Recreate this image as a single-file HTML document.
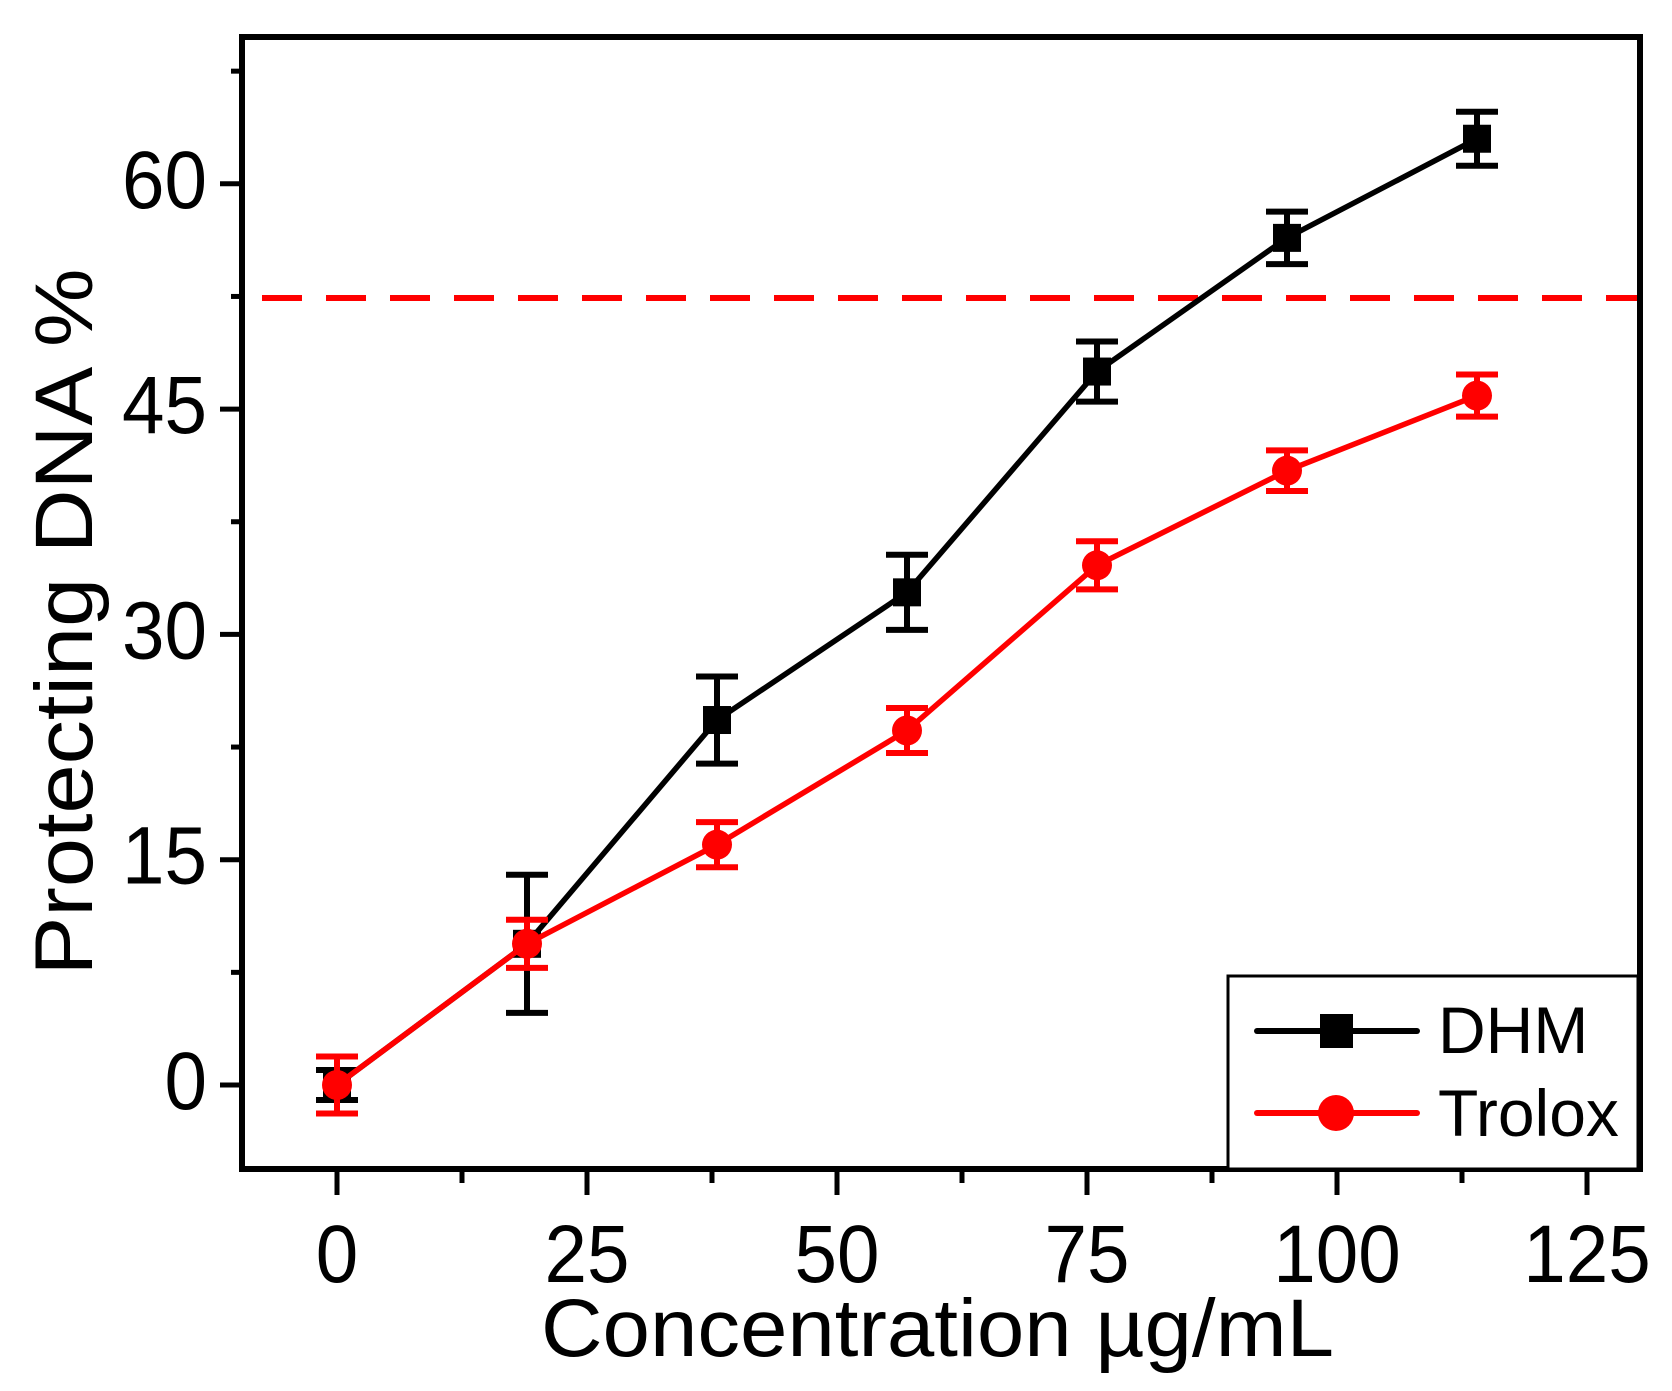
<!DOCTYPE html>
<html><head><meta charset="utf-8"><style>
html,body{margin:0;padding:0;background:#fff;}
svg{display:block;font-family:"Liberation Sans",Arial,sans-serif;}
</style></head><body>
<svg id="chart" width="1672" height="1391" viewBox="0 0 1672 1391">
<g id="plot"></g>
</svg>
<script>
const xValues=[0,19,38,57,76,95,114];
const dhmValues=[0,9.4,24.3,32.8,47.5,56.4,63.0];
const dhmErrors=[1.0,4.6,2.9,2.5,2.0,1.75,1.8];
const troloxValues=[0,9.4,16.0,23.6,34.6,40.9,45.9];
const troloxErrors=[1.9,1.6,1.5,1.5,1.6,1.35,1.4];
const xTicks=[0,25,50,75,100,125];
const yTicks=[0,15,30,45,60];
const thresholdValue=52.4;

const NS='http://www.w3.org/2000/svg';
const g=document.getElementById('plot');
const L=242,R=1640,T=37,B=1169;
function sx(v){return 337+v*10;}
function sy(v){return 1085-v*15.02;}
function mk(tag,attrs,parent){const e=document.createElementNS(NS,tag);for(const k in attrs)e.setAttribute(k,attrs[k]);(parent||g).appendChild(e);return e;}

for(let v=-7.5;v<=67.5;v+=7.5){
  const y=sy(v); if(y>B||y<T)continue;
  const major=yTicks.includes(v);
  const t=mk('line',{x1:L,x2:L-(major?22:11),y1:y,y2:y,stroke:'#000','stroke-width':5});
  
  
}
yTicks.forEach(v=>{
  const t=mk('text',{x:207,y:sy(v)+24,'font-size':82,'text-anchor':'end',fill:'#000',textLength:String(v).length*42.5,lengthAdjust:'spacingAndGlyphs'});
  t.textContent=v;
  
  
});
for(let v=0;v<=125;v+=12.5){
  const x=sx(v);
  const major=xTicks.includes(v);
  const t=mk('line',{x1:x,x2:x,y1:B,y2:B+(major?26:14),stroke:'#000','stroke-width':5});
  
  
}
xTicks.forEach(v=>{
  const t=mk('text',{x:sx(v),y:1282,'font-size':82,'text-anchor':'middle',fill:'#000',textLength:String(v).length*42.5,lengthAdjust:'spacingAndGlyphs'});
  t.textContent=v;
  
  
});
const th=mk('line',{x1:L+20,x2:R,y1:sy(thresholdValue),y2:sy(thresholdValue),stroke:'#ff0000','stroke-width':6,'stroke-dasharray':'40 24'});



function series(vals,errs,color,shape,name){
  const pts=vals.map((v,i)=>sx(xValues[i])+','+sy(v)).join(' ');
  const pl=mk('polyline',{points:pts,fill:'none',stroke:color,'stroke-width':5.5});
  
  
  vals.forEach((v,i)=>{
    const x=sx(xValues[i]),y1=sy(v+errs[i]),y2=sy(v-errs[i]);
    const eg=mk('g',{stroke:color,'stroke-width':6});
    
    
    mk('line',{x1:x,x2:x,y1:y1,y2:y2},eg);
    mk('line',{x1:x-21,x2:x+21,y1:y1,y2:y1},eg);
    mk('line',{x1:x-21,x2:x+21,y1:y2,y2:y2},eg);
    let m;
    if(shape==='sq') m=mk('rect',{x:x-14,y:sy(v)-14,width:28,height:28,fill:color});
    else m=mk('circle',{cx:x,cy:sy(v),r:15,fill:color});
    
    
  });
}
series(dhmValues,dhmErrors,'#000','sq','dhm');
series(troloxValues,troloxErrors,'#ff0000','ci','trolox');

const fr=mk('rect',{x:L,y:T,width:R-L,height:B-T,fill:'none',stroke:'#000','stroke-width':6});



const lg=mk('g',{});


mk('rect',{x:1228,y:976,width:410,height:193,fill:'#fff',stroke:'#000','stroke-width':3},lg);
mk('line',{x1:1257,x2:1417,y1:1031,y2:1031,stroke:'#000','stroke-width':6,'stroke-linecap':'round'},lg);
mk('rect',{x:1320,y:1014,width:33,height:34,fill:'#000'},lg);
mk('line',{x1:1257,x2:1417,y1:1113,y2:1113,stroke:'#ff0000','stroke-width':6,'stroke-linecap':'round'},lg);
mk('circle',{cx:1336,cy:1113,r:18,fill:'#ff0000'},lg);
const t1=mk('text',{x:1438,y:1053,'font-size':66,fill:'#000'},lg);t1.textContent='DHM';


const t2=mk('text',{x:1438,y:1136,'font-size':66,fill:'#000'},lg);t2.textContent='Trolox';



const xt=mk('text',{x:541,y:1356,'font-size':82,fill:'#000',textLength:793,lengthAdjust:'spacingAndGlyphs'});
xt.textContent='Concentration  \u00b5g/mL';


const yt=mk('text',{x:0,y:0,'font-size':82,fill:'#000','text-anchor':'middle',textLength:707,lengthAdjust:'spacingAndGlyphs',transform:'translate(92,622) rotate(-90)'});
yt.textContent='Protecting DNA %';


</script>
</body></html>
